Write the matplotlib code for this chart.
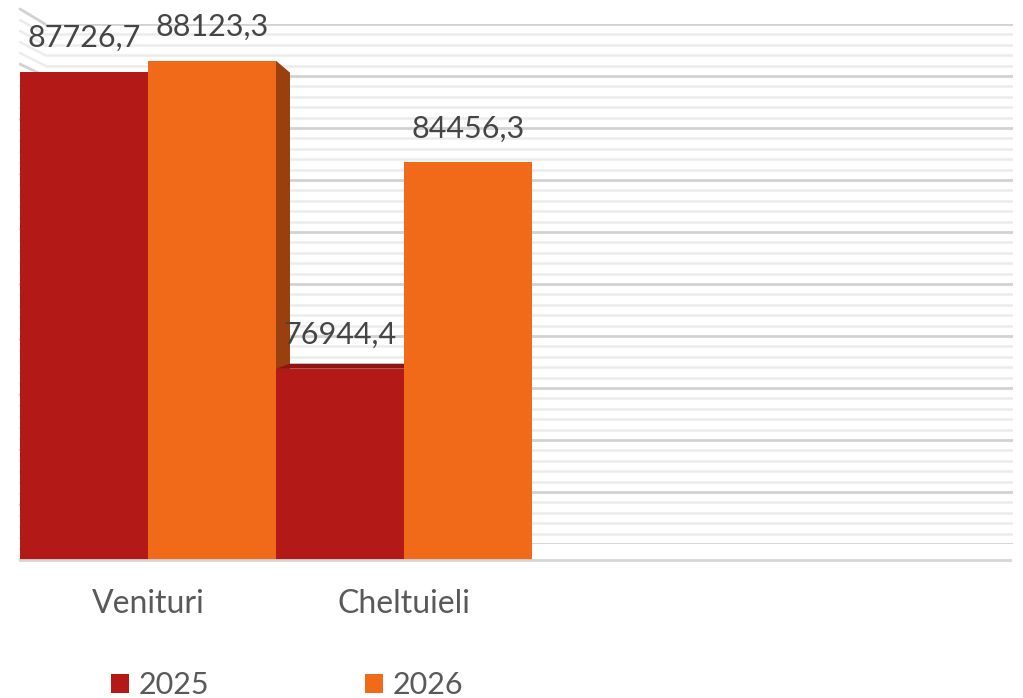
import matplotlib.pyplot as plt
import numpy as np
from matplotlib.patches import Polygon, ConnectionPatch, Patch

categories = ['Venituri', 'Cheltuieli']
years = ['2025', '2026']
values_2025 = [87726.7, 76944.4]
values_2026 = [88123.3, 84456.3]
labels_2025 = ['87726,7', '76944,4']
labels_2026 = ['88123,3', '84456,3']

col_2025 = '#B31917'
col_2026 = '#F06A1A'
side_2026 = '#9A400E'
top_2025 = '#8E1412'
text_col = '#454545'

plt.rcParams['font.family'] = ['Lato', 'DejaVu Sans']

W, H = 1023, 698
fig = plt.figure(figsize=(W / 100, H / 100), dpi=100)

ymin, ymax = 70000, 90000

# back wall with the gridlines
ax_back = fig.add_axes([45 / W, 1 - 544 / H, (1013 - 45) / W, (544 - 24) / H])
ax_back.set_ylim(ymin, ymax)
ax_back.set_xlim(0, 1)
for v in np.arange(ymin, ymax + 1, 400):
    major = (v - ymin) % 2000 == 0
    ax_back.axhline(v, color='#d2d2d2' if major else '#ececec', lw=2 if major else 1.8)
ax_back.axis('off')

# front axes with the bars
ax = fig.add_axes([20 / W, 1 - 560 / H, (1010 - 20) / W, 551 / H])
ax.patch.set_alpha(0)
ax.set_ylim(ymin, ymax)
x = np.arange(len(categories))
w = 0.5
ax.set_xlim(-0.5, -0.5 + 990 / 256)

# left wall lines
for v in np.arange(ymin, ymax + 1, 400):
    major = (v - ymin) % 2000 == 0
    con = ConnectionPatch(xyA=(-0.5, v), coordsA=ax.transData,
                          xyB=(0, v), coordsB=ax_back.transData,
                          color='#d2d2d2' if major else '#ececec', lw=2 if major else 1.8)
    con.set_clip_on(False)
    ax_back.add_artist(con)

dx = 14 / 256
dy_side = 12 / 551 * (ymax - ymin)
dy_top = 5 / 551 * (ymax - ymin)

# side face of the 2026 Venituri bar
r = x[0] + w
ax.add_patch(Polygon([(r, values_2026[0]), (r + dx, values_2026[0] - dy_side),
                      (r + dx, ymin), (r, ymin)], closed=True,
                     facecolor=side_2026, edgecolor='none', zorder=1))

bars1 = ax.bar(x - w / 2, values_2025, w, color=col_2025, zorder=2)
bars2 = ax.bar(x + w / 2, values_2026, w, color=col_2026, zorder=2)
ax.set_ylim(ymin, ymax)

# top face of the 2025 Cheltuieli bar
l = x[1] - w
ax.add_patch(Polygon([(l, values_2025[1]), (l + dx, values_2025[1] + dy_top),
                      (x[1], values_2025[1] + dy_top), (x[1], values_2025[1])], closed=True,
                     facecolor=top_2025, edgecolor='none', zorder=3))

for i in range(len(categories)):
    ax.annotate(labels_2025[i], (x[i] - w / 2, values_2025[i]), xytext=(0, 14),
                textcoords='offset points', ha='center', va='bottom',
                fontsize=22, color=text_col, zorder=5)
    ax.annotate(labels_2026[i], (x[i] + w / 2, values_2026[i]), xytext=(0, 14),
                textcoords='offset points', ha='center', va='bottom',
                fontsize=22, color=text_col, zorder=5)

ax.set_xticks(x)
ax.set_xticklabels(categories, fontsize=23, color='#595959')
ax.tick_params(axis='x', length=0, pad=21)
ax.set_yticks([])
for s in ['top', 'right', 'left']:
    ax.spines[s].set_visible(False)
ax.spines['bottom'].set_color('#d6d6d6')
ax.spines['bottom'].set_linewidth(2)

handles = [Patch(facecolor=col_2025), Patch(facecolor=col_2026)]
fig.legend(handles, years, loc='center', bbox_to_anchor=(287 / W, 13 / H), ncol=2,
           frameon=False, fontsize=22, labelcolor='#595959',
           handlelength=0.6, handleheight=0.6, handletextpad=0.3, columnspacing=5.1)

fig.savefig('out.png', dpi=100)
